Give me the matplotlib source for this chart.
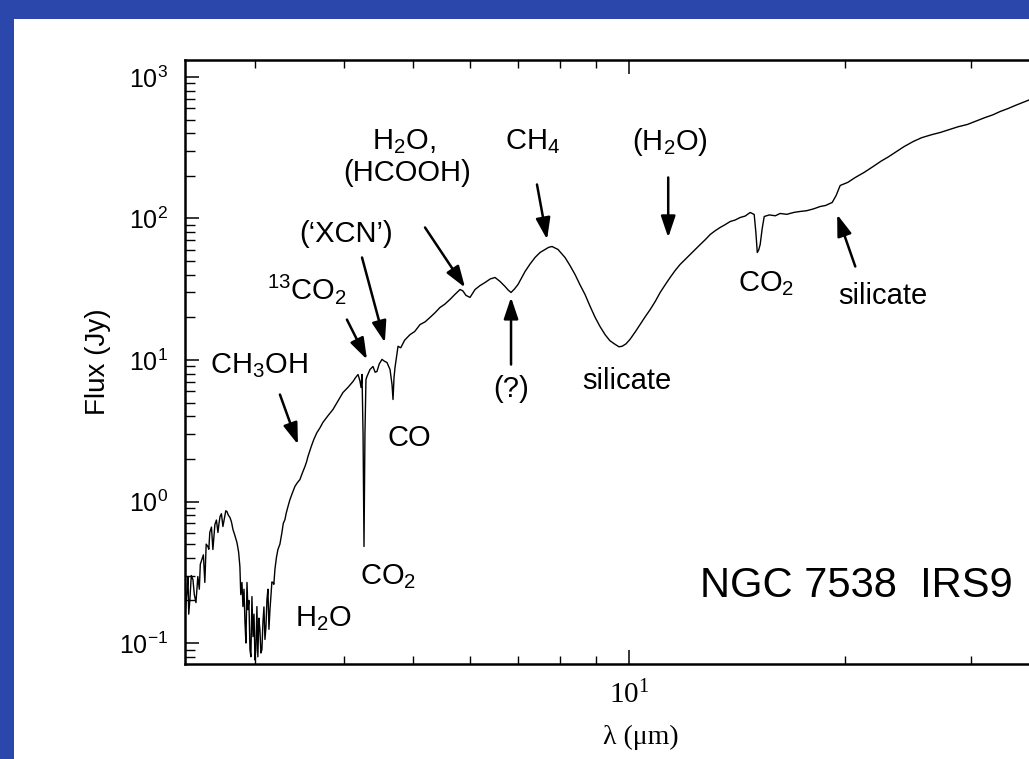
import matplotlib
matplotlib.use("Agg")
import matplotlib.pyplot as plt
from matplotlib.patches import Rectangle
from matplotlib.ticker import FixedLocator, FixedFormatter, NullFormatter

plt.rcParams["font.family"] = ["Liberation Sans", "DejaVu Sans"]
plt.rcParams["mathtext.fontset"] = "custom"
plt.rcParams["mathtext.rm"] = "Liberation Sans"
plt.rcParams["mathtext.it"] = "Liberation Sans:italic"
plt.rcParams["mathtext.bf"] = "Liberation Sans:bold"

# ISO-SWS spectrum of NGC 7538 IRS9 (wavelength in micron, flux in Jy)
wavelength = [
    2.402, 2.414, 2.422, 2.428, 2.437, 2.448, 2.461, 2.472, 2.485, 2.500,
    2.512, 2.520, 2.533, 2.545, 2.557, 2.568, 2.582, 2.590, 2.598, 2.612,
    2.624, 2.632, 2.641, 2.654, 2.667, 2.676, 2.685, 2.697, 2.710, 2.725,
    2.735, 2.745, 2.758, 2.772, 2.785, 2.799, 2.815, 2.835, 2.850, 2.862,
    2.870, 2.881, 2.890, 2.900, 2.909, 2.918, 2.928, 2.937, 2.946, 2.956,
    2.965, 2.975, 2.985, 2.995, 3.004, 3.013, 3.023, 3.032, 3.042, 3.052,
    3.062, 3.072, 3.082, 3.092, 3.102, 3.112, 3.122, 3.132, 3.142, 3.152,
    3.162, 3.172, 3.183, 3.192, 3.203, 3.218, 3.234, 3.255, 3.276, 3.290,
    3.308,
    3.320, 3.340, 3.361, 3.388, 3.416, 3.443, 3.471, 3.500, 3.528, 3.545,
    3.562, 3.600, 3.630, 3.666, 3.700, 3.737, 3.800, 3.860, 3.920, 3.986,
    4.050, 4.117, 4.150, 4.184, 4.210, 4.225, 4.238, 4.252, 4.265, 4.278,
    4.292, 4.306, 4.348, 4.390, 4.420, 4.446, 4.480, 4.519, 4.555, 4.592,
    4.637, 4.667, 4.682, 4.697, 4.712, 4.758, 4.800, 4.860, 4.944, 5.020,
    5.107, 5.190, 5.274, 5.360, 5.445, 5.530, 5.623, 5.710, 5.808, 5.860,
    5.920, 5.997, 6.095, 6.190, 6.294, 6.400, 6.499, 6.600, 6.711, 6.780,
    6.842, 6.920, 6.998, 7.157, 7.270, 7.390, 7.510, 7.633, 7.720, 7.806,
    7.957, 8.139, 8.270, 8.405, 8.540, 8.680, 8.820, 8.966, 9.110, 9.258,
    9.400, 9.560, 9.680, 9.777, 9.900, 10.03, 10.20, 10.36, 10.53, 10.70,
    10.88, 11.05, 11.23, 11.41, 11.60, 11.78, 11.98, 12.17, 12.37, 12.57,
    12.78, 12.98, 13.19, 13.40, 13.62, 13.84, 14.06, 14.29, 14.52, 14.76,
    14.95, 15.03, 15.10, 15.17, 15.24, 15.34, 15.44, 15.70, 16.00, 16.25,
    16.60, 17.00, 17.33, 17.70, 18.10, 18.49, 18.80, 19.21, 19.45, 19.71,
    20.20, 20.69, 21.30, 21.92, 22.50, 23.00, 23.52, 24.20, 24.93, 25.60,
    26.40, 27.19, 28.00, 28.80, 29.66, 30.50, 31.42, 32.20, 32.97, 33.80,
    34.60, 35.70, 36.90,
]
flux = [
    0.17, 0.228, 0.295, 0.16, 0.203, 0.30, 0.281, 0.22, 0.193, 0.295,
    0.24, 0.36, 0.389, 0.42, 0.268, 0.50, 0.481, 0.46, 0.604, 0.66,
    0.458, 0.56, 0.688, 0.74, 0.604, 0.70, 0.783, 0.82, 0.666, 0.78,
    0.86, 0.850, 0.80, 0.771, 0.72, 0.634, 0.58, 0.513, 0.44, 0.347,
    0.22, 0.268, 0.181, 0.24, 0.140, 0.10, 0.268, 0.172, 0.20, 0.090,
    0.08, 0.213, 0.111, 0.16, 0.076, 0.09, 0.181, 0.080, 0.15, 0.125,
    0.085, 0.090, 0.140, 0.18, 0.106, 0.13, 0.203, 0.24, 0.125, 0.17,
    0.213, 0.27, 0.268, 0.26, 0.331, 0.40, 0.458, 0.50, 0.604, 0.70,
    0.746,
    0.82, 0.92, 1.03, 1.15, 1.28, 1.36, 1.43, 1.60, 1.77, 1.90,
    2.08, 2.45, 2.75, 3.07, 3.30, 3.62, 4.05, 4.47, 5.10, 5.89,
    6.40, 7.05, 7.50, 7.90, 7.10, 6.39, 7.90, 3.00, 0.481, 3.00,
    7.28, 7.65, 8.57, 9.00, 8.20, 8.29, 9.40, 10.1, 9.80, 9.60,
    8.57, 6.71, 5.26, 7.50, 8.85, 12.5, 12.2, 13.8, 15.1, 15.9,
    17.8, 18.6, 20.0, 21.6, 23.5, 24.8, 26.8, 29.0, 31.5, 30.8,
    28.6, 27.7, 31.5, 33.5, 35.3, 37.4, 38.3, 36.0, 33.1, 31.2,
    30.0, 31.8, 34.2, 42.2, 47.5, 53.0, 57.5, 60.4, 62.5, 63.4,
    60.4, 53.0, 46.5, 40.2, 34.0, 29.0, 24.0, 20.0, 17.2, 15.1,
    13.7, 12.9, 12.4, 12.5, 13.0, 14.0, 15.8, 17.8, 20.2, 22.7,
    26.0, 30.0, 34.0, 38.3, 43.0, 47.3, 51.5, 55.7, 60.5, 65.5,
    71.0, 77.1, 82.0, 86.4, 90.5, 95.2, 97.5, 101.6, 104.0, 110.3,
    106.7, 80.0, 57.5, 60.0, 65.5, 85.0, 103.3, 106.0, 104.5, 108.5,
    107.0, 110.5, 112.1, 113.5, 117.0, 121.6, 123.5, 129.8, 145.0, 171.1,
    180.0, 194.9, 212.0, 233.2, 255.0, 272.0, 292.7, 322.0, 350.1, 372.0,
    390.0, 405.3, 425.0, 445.0, 461.6, 488.0, 517.3, 540.0, 570.4, 598.0,
    629.0, 670.0, 716.0,
]

x_major = [10]
x_major_labels = [r"$\mathregular{10^{1}}$"]
x_minor = [3, 4, 5, 6, 7, 8, 9, 20, 30, 40]
y_major = [0.1, 1, 10, 100, 1000]
y_major_labels = [r"$\mathregular{10^{-1}}$", r"$\mathregular{10^{0}}$",
                  r"$\mathregular{10^{1}}$", r"$\mathregular{10^{2}}$",
                  r"$\mathregular{10^{3}}$"]

# feature labels: (text, x, y, horizontal alignment, vertical alignment)
labels = [
    ("CH$_3$OH", 2.598, 8.03, "left", "baseline"),
    ("$^{13}$CO$_2$", 3.122, 26.8, "left", "baseline"),
    ("(\u2018XCN\u2019)", 4.024, 67.7, "center", "baseline"),
    ("H$_2$O,", 4.377, 307, "left", "baseline"),
    ("(HCOOH)", 3.986, 182.6, "left", "baseline"),
    ("CH$_4$", 6.711, 307, "left", "baseline"),
    ("(?)", 6.842, 6.19, "center", "center"),
    ("silicate", 9.94, 7.05, "center", "center"),
    ("(H$_2$O)", 11.41, 307, "center", "baseline"),
    ("CO$_2$", 14.2, 30.5, "left", "baseline"),
    ("silicate", 19.58, 24.7, "left", "baseline"),
    ("CO", 4.607, 2.45, "left", "baseline"),
    ("CO$_2$", 4.21, 0.259, "left", "baseline"),
    ("H$_2$O", 3.416, 0.1308, "left", "baseline"),
]

# arrows: (tail x, tail y, tip x, tip y)
arrows = [
    (3.255, 5.70, 3.449, 2.53),
    (4.037, 19.3, 4.306, 10.08),
    (4.238, 53.0, 4.561, 13.3),
    (5.189, 86.4, 5.902, 32.5),
    (7.437, 173.9, 7.682, 71.1),
    (6.842, 9.29, 6.842, 27.7),
    (11.34, 194.9, 11.34, 73.4),
    (20.69, 45.8, 19.52, 106.7),
]

W, H = 1029, 759
fig = plt.figure(figsize=(W / 100, H / 100), dpi=100, facecolor="#2b47ab")
panel = Rectangle((14 / W, 0), 1 - 14 / W, (H - 19) / H,
                  transform=fig.transFigure, facecolor="white",
                  edgecolor="none", zorder=-10)
fig.patches.append(panel)

ax = fig.add_axes([185 / W, (H - 664) / H, (1097 - 185) / W, (664 - 60) / H])
ax.set_zorder(1)
ax.set_xscale("log")
ax.set_yscale("log")
ax.set_xlim(2.399, 45)
ax.set_ylim(0.0711, 1318)

ax.plot(wavelength, flux, color="black", lw=1.0)

for side in ["left", "bottom", "top", "right"]:
    ax.spines[side].set_linewidth(1.8)

ax.xaxis.set_major_locator(FixedLocator(x_major))
ax.xaxis.set_major_formatter(FixedFormatter(x_major_labels))
ax.xaxis.set_minor_locator(FixedLocator(x_minor))
ax.xaxis.set_minor_formatter(NullFormatter())
ax.yaxis.set_major_locator(FixedLocator(y_major))
ax.yaxis.set_major_formatter(FixedFormatter(y_major_labels))
ax.yaxis.set_minor_formatter(NullFormatter())

ax.tick_params(which="both", direction="in", top=True, right=False)
ax.tick_params(axis="y", which="major", length=10, width=1.1, pad=12, labelsize=18)
ax.tick_params(axis="y", which="minor", length=7, width=1.0)
ax.tick_params(axis="x", which="major", length=10, width=1.1, pad=12, labelsize=21)
ax.tick_params(axis="x", which="minor", length=6, width=1.0)
for lab in ax.get_xticklabels():
    lab.set_fontfamily(["Liberation Serif", "DejaVu Serif"])

ax.set_xlabel("\u03bb (\u03bcm)", fontsize=20,
              fontfamily=["Liberation Serif", "DejaVu Serif"], labelpad=11)
ax.set_ylabel("Flux (Jy)", fontsize=20, labelpad=6)

for text, x, y, ha, va in labels:
    ax.text(x, y, text, fontsize=21, ha=ha, va=va)

ax.text(12.57, 0.21, "NGC 7538  IRS9", fontsize=30, ha="left", va="baseline")

for x0, y0, x1, y1 in arrows:
    ax.annotate("", xy=(x1, y1), xytext=(x0, y0),
                arrowprops=dict(arrowstyle="-|>,head_length=0.65,head_width=0.22",
                                color="black", lw=1.8, mutation_scale=20,
                                shrinkA=0, shrinkB=0))

fig.savefig("out.png", dpi=100, facecolor=fig.get_facecolor())
